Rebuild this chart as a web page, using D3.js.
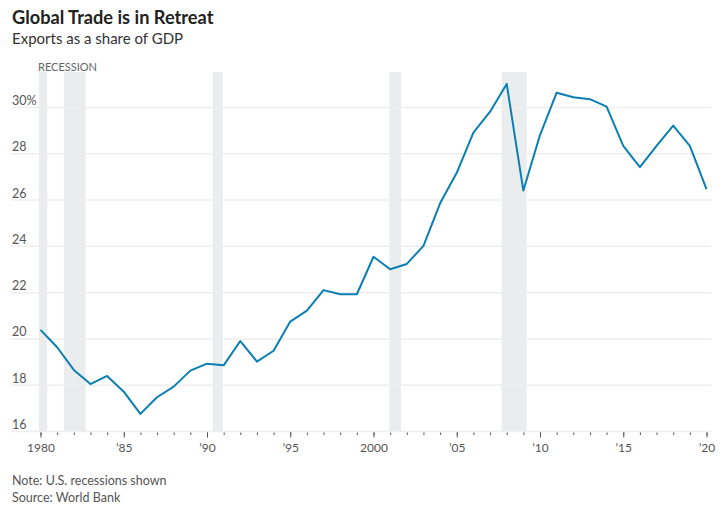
<!DOCTYPE html>
<html>
<head>
<meta charset="utf-8">
<script src="https://cdn.jsdelivr.net/npm/d3@7"></script>
<style>
  html, body { margin: 0; padding: 0; background: #fff; }
  svg { display: block; font-family: Lato, "Noto Sans", sans-serif; }
</style>
</head>
<body>
<svg id="chart" width="726" height="515"></svg>
<script>
const years = d3.range(1980, 2021);
const exportsShare = [
  20.39, 19.64, 18.66, 18.05, 18.40, 17.72, 16.76, 17.48, 17.94, 18.63,
  18.93, 18.86, 19.91, 19.02, 19.49, 20.75, 21.22, 22.11, 21.93, 21.93,
  23.55, 23.01, 23.24, 24.02, 25.86, 27.18, 28.91, 29.82, 31.02, 26.41,
  28.81, 30.64, 30.44, 30.36, 30.04, 28.34, 27.42, 28.34, 29.22, 28.34,
  26.47
];
const recessionStart = [1979.9, 1981.4, 1990.35, 2000.95, 2007.7];
const recessionEnd   = [1980.4, 1982.7, 1990.95, 2001.65, 2009.2];
const yTicks = [16, 18, 20, 22, 24, 26, 28, 30];
const xMajorTicks = [1980, 1985, 1990, 1995, 2000, 2005, 2010, 2015, 2020];
const xTickLabels = ["1980", "\u201985", "\u201990", "\u201995", "2000", "\u201905", "\u201910", "\u201915", "\u201920"];

const svg = d3.select("#chart");
const x = d3.scaleLinear().domain([1980, 2020]).range([40.5, 706.5]);
const y = d3.scaleLinear().domain([16, 30]).range([431.5, 107.5]);

// title
svg.append("text").attr("x", 12).attr("y", 24)
  .attr("font-size", 18.2).attr("font-weight", 700).attr("fill", "#222")
  .text("Global Trade is in Retreat");
svg.append("text").attr("x", 12).attr("y", 44)
  .attr("font-size", 15).attr("fill", "#333")
  .text("Exports as a share of GDP");

// recession bands
svg.append("g").selectAll("rect").data(recessionStart).join("rect")
  .attr("x", (d) => x(d))
  .attr("width", (d, i) => x(recessionEnd[i]) - x(d))
  .attr("y", 72)
  .attr("height", y(16) - 72)
  .attr("fill", "#ebeced");
svg.append("text").attr("x", 38).attr("y", 71)
  .attr("font-size", 11).attr("fill", "#666")
  .text("RECESSION");

// gridlines
svg.append("g").selectAll("line").data(yTicks).join("line")
  .attr("x1", 11).attr("x2", 711)
  .attr("y1", (d) => y(d)).attr("y2", (d) => y(d))
  .attr("stroke", "#eeeeee").attr("stroke-width", 1.5);

// y labels
svg.append("g").selectAll("text").data(yTicks).join("text")
  .attr("x", 12).attr("y", (d) => y(d) - 2.5)
  .attr("font-size", 12.5).attr("fill", "#555")
  .text((d) => d === 30 ? "30%" : d);

// x axis ticks
const xAxisMinor = d3.axisBottom(x).tickValues(years).tickSize(2.5).tickFormat("");
const gMinor = svg.append("g").attr("transform", `translate(0,${y(16) + 1})`).call(xAxisMinor);
gMinor.select(".domain").remove();
gMinor.selectAll("line").attr("stroke", "#555");
const xAxisMajor = d3.axisBottom(x).tickValues(xMajorTicks).tickSize(5)
  .tickFormat((d, i) => xTickLabels[i]).tickPadding(6);
const gMajor = svg.append("g").attr("transform", `translate(0,${y(16) + 1})`).call(xAxisMajor);
gMajor.select(".domain").remove();
gMajor.selectAll("line").attr("stroke", "#555");
gMajor.selectAll("text").attr("font-size", 12).attr("fill", "#555")
  .attr("font-family", "Lato, sans-serif");

// line
const line = d3.line().x((d, i) => x(years[i])).y((d) => y(d));
svg.append("path").datum(exportsShare)
  .attr("d", line).attr("fill", "none")
  .attr("stroke", "#0a7fb3").attr("stroke-width", 2)
  .attr("stroke-linejoin", "round");

// footnotes
svg.append("text").attr("x", 12).attr("y", 485)
  .attr("font-size", 12.5).attr("fill", "#555")
  .text("Note: U.S. recessions shown");
svg.append("text").attr("x", 12).attr("y", 502)
  .attr("font-size", 12.5).attr("fill", "#555")
  .text("Source: World Bank");
</script>
</body>
</html>
